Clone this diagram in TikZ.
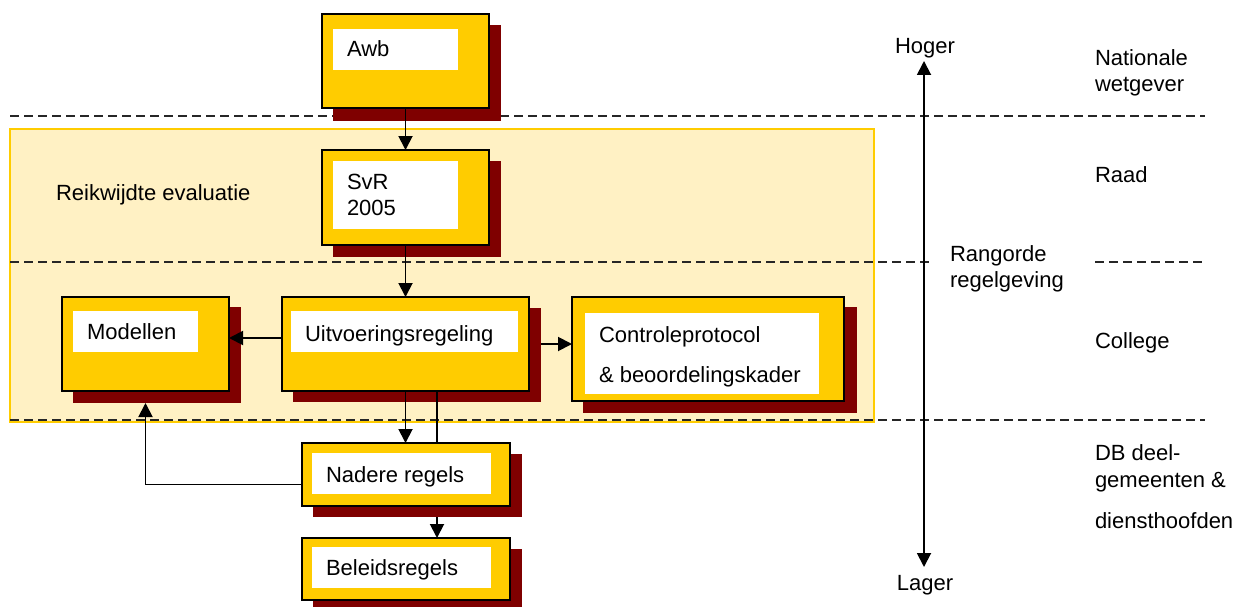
\documentclass[tikz,border=0pt]{standalone}
\usepackage{fontspec}
\setmainfont{Liberation Sans}
\usetikzlibrary{arrows.meta}
\definecolor{boxyellow}{HTML}{FFCC00}
\definecolor{shadowred}{HTML}{7F0000}
\definecolor{regionfill}{HTML}{FFF1C4}
\begin{document}
\begin{tikzpicture}[x=1pt,y=-1pt,
 every node/.style={font=\fontsize{22}{26}\selectfont},
 lbl/.style={anchor=base west, inner sep=0, outer sep=0},
 clbl/.style={anchor=base, inner sep=0, outer sep=0},
 shadowbox/.style={fill=shadowred, anchor=north west, inner sep=0, outer sep=0},
 mainbox/.style={fill=boxyellow, draw=black, line width=2pt, anchor=north west, inner sep=0, outer sep=0},
 whitebox/.style={fill=white, anchor=north west, inner sep=0, outer sep=0},
 regionbox/.style={fill=regionfill, draw=boxyellow, line width=1.5pt, anchor=north west, inner sep=0, outer sep=0},
 conn/.style={line width=1.9pt, -{Triangle[length=14pt,width=14pt]}},
 plainconn/.style={line width=1.9pt},
 level/.style={dash pattern=on 9pt off 5pt, line width=1.4pt, black!85},
]
\useasboundingbox (0,0) rectangle (1241,607);

% scope region
\node[regionbox, minimum width=864pt, minimum height=293pt] (region) at (10,129) {};
\node[lbl] (reik) at (56,200) {Reikwijdte evaluatie};

% level lines
\coordinate (l1a) at (10,116);  \coordinate (l1b) at (1205,116);
\coordinate (l2a) at (10,262);  \coordinate (l2b) at (933,262);
\coordinate (l2c) at (1095,262); \coordinate (l2d) at (1205,262);
\coordinate (l3a) at (10,420);  \coordinate (l3b) at (1205,420);
\draw[level] (l1a) -- (l1b);
\draw[level] (l2a) -- (l2b);
\draw[level] (l2c) -- (l2d);
\draw[level] (l3a) -- (l3b);

% shadows
\node[shadowbox, minimum width=168pt, minimum height=96pt] (awbs) at (333,25) {};
\node[shadowbox, minimum width=168pt, minimum height=96pt] (svrs) at (333,161) {};
\node[shadowbox, minimum width=248pt, minimum height=94pt] (uitvs) at (293,308) {};
\node[shadowbox, minimum width=168pt, minimum height=96pt] (mods) at (73,307) {};
\node[shadowbox, minimum width=274pt, minimum height=106pt] (ctrls) at (583,307) {};
\node[shadowbox, minimum width=209pt, minimum height=63pt] (nads) at (313,454) {};
\node[shadowbox, minimum width=209pt, minimum height=63pt] (bels) at (313,549) {};

% main boxes
\node[mainbox, minimum width=167pt, minimum height=94pt] (awb) at (322,14) {};
\node[mainbox, minimum width=167pt, minimum height=95pt] (svr) at (322,150) {};
\node[mainbox, minimum width=247pt, minimum height=94pt] (uitv) at (282,297) {};
\node[mainbox, minimum width=167pt, minimum height=94pt] (mod) at (62,297) {};
\node[mainbox, minimum width=272pt, minimum height=104pt] (ctrl) at (572,297) {};
\node[mainbox, minimum width=208pt, minimum height=63pt] (nad) at (302,443) {};
\node[mainbox, minimum width=208pt, minimum height=62pt] (bel) at (302,538) {};

% white inner panels
\node[whitebox, minimum width=125pt, minimum height=41pt] (awbw) at (333,29) {};
\node[whitebox, minimum width=125pt, minimum height=68pt] (svrw) at (333,161) {};
\node[whitebox, minimum width=227pt, minimum height=41pt] (uitvw) at (291,311) {};
\node[whitebox, minimum width=125pt, minimum height=41pt] (modw) at (73,311) {};
\node[whitebox, minimum width=234pt, minimum height=81pt] (ctrlw) at (585,313) {};
\node[whitebox, minimum width=179pt, minimum height=41pt] (nadw) at (312,453) {};
\node[whitebox, minimum width=179pt, minimum height=41pt] (belw) at (312,547) {};

% box texts
\node[lbl] (awbt) at (347,57) {Awb};
\node[lbl] (svrt1) at (347,189) {SvR};
\node[lbl] (svrt2) at (347,215) {2005};
\node[lbl] (uitvt) at (305,341) {Uitvoeringsregeling};
\node[lbl] (modt) at (87,339) {Modellen};
\node[lbl] (ctrlt1) at (599,342) {Controleprotocol};
\node[lbl] (ctrlt2) at (599,382) {\& beoordelingskader};
\node[lbl] (nadt) at (326,482) {Nadere regels};
\node[lbl] (belt) at (326,575) {Beleidsregels};

% connectors
\coordinate (x437) at (437,0);
\draw[conn] (awb.south) -- (svr.north);
\draw[conn] (svr.south) -- (uitv.north);
\draw[conn] (uitv.south) -- (uitv.south |- nad.north);
\draw[plainconn] (uitv.south -| x437) -- (nad.north -| x437);
\draw[conn] (nads.south -| x437) -- (bel.north -| x437);
\draw[conn] ([yshift=6pt]uitv.west) -- ([yshift=6pt]uitv.west -| mod.east);
\draw[conn] (uitv.east -| uitvs.east) -- (uitv.east -| ctrl.west);
\draw[conn] ([yshift=-10pt]nad.west) -| (mod.south |- mods.south);

% hierarchy axis
\node[clbl] (hoger) at (925,54) {Hoger};
\node[clbl] (lager) at (925,590) {Lager};
\coordinate (atop) at (924,61);
\coordinate (abot) at (924,567);
\draw[line width=1.9pt, {Triangle[length=14pt,width=14pt]}-{Triangle[length=14pt,width=14pt]}] (atop) -- (abot);
\node[lbl] (rang1) at (950,261) {Rangorde};
\node[lbl] (rang2) at (950,287) {regelgeving};

% level labels
\node[lbl] (nat1) at (1095,66) {Nationale};
\node[lbl] (nat2) at (1095,92) {wetgever};
\node[lbl] (raad) at (1095,182) {Raad};
\node[lbl] (coll) at (1095,348) {College};
\node[lbl] (db1) at (1095,460) {DB deel-};
\node[lbl] (db2) at (1095,487) {gemeenten \&};
\node[lbl] (db3) at (1095,528) {diensthoofden};
\end{tikzpicture}
\end{document}
